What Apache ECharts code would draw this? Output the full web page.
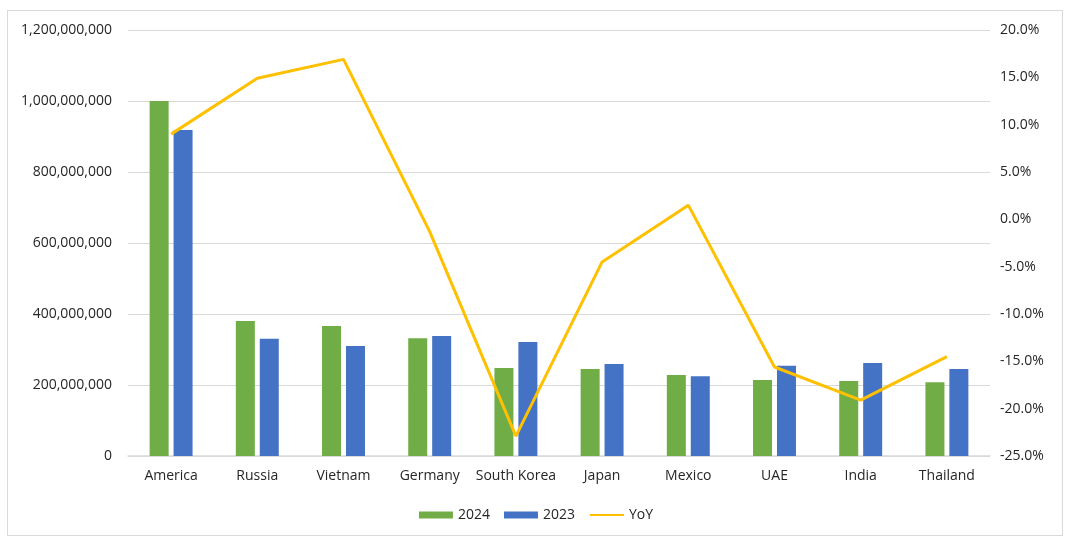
<!DOCTYPE html>
<html>
<head>
<meta charset="utf-8">
<script src="https://cdn.jsdelivr.net/npm/echarts@6/dist/echarts.min.js"></script>
<style>
html,body{margin:0;padding:0;background:#fff;}
#frame{position:absolute;left:7px;top:10px;width:1056px;height:526px;border:1px solid #d9d9d9;box-sizing:border-box;}
#chart{position:absolute;left:0;top:0;width:1072px;height:549px;}
</style>
</head>
<body>
<div id="frame"></div>
<div id="chart"></div>
<script>
const categories = ['America','Russia','Vietnam','Germany','South Korea','Japan','Mexico','UAE','India','Thailand'];
const values2024 = [1000000000,380000000,366000000,332000000,248000000,245000000,228000000,214000000,211000000,208000000];
const values2023 = [918000000,330000000,310000000,338000000,321000000,259000000,225000000,254000000,262000000,245000000];
const yoy = [9.0,14.9,16.9,-1.3,-22.9,-4.5,1.5,-15.6,-19.1,-14.5];

const font = '"Open Sans", "Noto Sans", sans-serif';
const fs = 14;
const chart = echarts.init(document.getElementById('chart'));
chart.setOption({
  animation:false,
  textStyle:{fontFamily:font},
  grid:{left:128,right:82,top:30,bottom:93},
  legend:{
    bottom:22,left:'center',itemWidth:34,itemHeight:7,itemGap:14,
    textStyle:{fontFamily:font,fontSize:fs,color:'#262626'},
    data:[{name:'2024',icon:'rect'},{name:'2023',icon:'rect'},{name:'YoY',itemStyle:{opacity:0}}]
  },
  xAxis:{
    type:'category',data:categories,
    axisLine:{lineStyle:{color:'#d9d9d9',width:1.5}},
    axisTick:{show:false},
    axisLabel:{color:'#262626',fontSize:fs,margin:13,fontFamily:font,interval:0}
  },
  yAxis:[{
    type:'value',min:0,max:1200000000,interval:200000000,
    axisLine:{show:false},axisTick:{show:false},
    splitLine:{lineStyle:{color:'#d9d9d9'}},
    axisLabel:{color:'#262626',fontSize:fs,margin:16,fontFamily:font,
      formatter:v=>v.toLocaleString('en-US')}
  },{
    type:'value',min:-25,max:20,interval:5,
    axisLine:{show:false},axisTick:{show:false},splitLine:{show:false},
    axisLabel:{color:'#262626',fontSize:fs,margin:10,fontFamily:font,
      formatter:v=>v.toFixed(1)+'%'}
  }],
  series:[{
    name:'2024',type:'bar',data:values2024,barWidth:19,barGap:'26%',
    itemStyle:{color:'#70AD47'}
  },{
    name:'2023',type:'bar',data:values2023,barWidth:19,
    itemStyle:{color:'#4472C4'}
  },{
    name:'YoY',type:'line',yAxisIndex:1,data:yoy,symbol:'none',
    lineStyle:{color:'#FFC000',width:3},itemStyle:{color:'#FFC000'}
  }]
});
</script>
</body>
</html>
